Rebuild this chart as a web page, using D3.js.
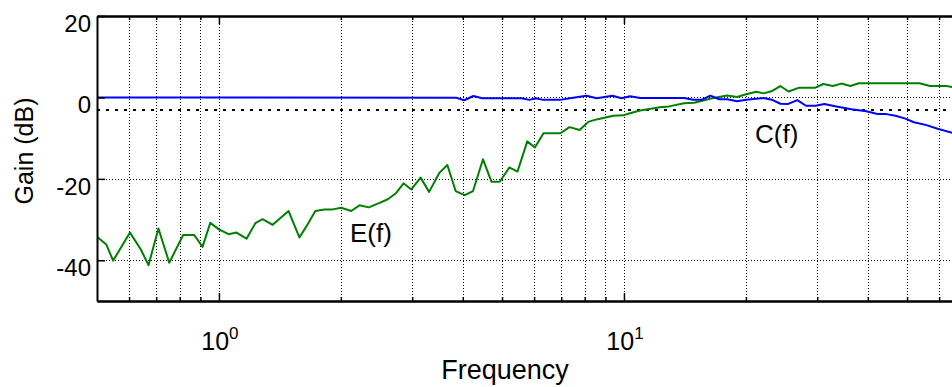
<!DOCTYPE html>
<html>
<head>
<meta charset="utf-8">
<script src="https://cdn.jsdelivr.net/npm/d3@7"></script>
<style>
    body { margin: 0; background: #fff; }
    svg { display: block; font-family: "Liberation Sans", Arial, Helvetica, sans-serif; }
</style>
</head>
<body>
<div id="viz"></div>
<script>
// Data (frequency, gain in dB)
const freqE = [0.5, 0.527, 0.548, 0.603, 0.641, 0.67, 0.709, 0.754, 0.816, 0.869, 0.911, 0.952, 1.0, 1.056, 1.105, 1.17, 1.23, 1.282, 1.357, 1.486, 1.58, 1.641, 1.73, 1.822, 1.91, 2.003, 2.121, 2.223, 2.344, 2.492, 2.612, 2.73, 2.856, 2.985, 3.147, 3.303, 3.497, 3.664, 3.841, 4.044, 4.24, 4.487, 4.707, 4.935, 5.211, 5.46, 5.771, 6.025, 6.33, 6.966, 7.339, 7.771, 8.162, 8.561, 9.408, 9.96, 10.35, 10.96, 12.27, 12.92, 14.07, 14.9, 16.51, 17.98, 19.03, 19.92, 21.21, 22.13, 23.23, 24.32, 25.49, 27.1, 29.68, 31.06, 32.79, 34.41, 36.22, 38.02, 53.66, 56.97, 62.57, 68];
const gainE = [-34.2, -36.1, -40.1, -33.2, -37.3, -41.2, -32.2, -40.6, -33.8, -33.8, -36.7, -30.8, -32.4, -33.6, -33.2, -34.7, -30.9, -29.9, -31.3, -27.9, -34.4, -31.8, -27.9, -27.5, -27.5, -27.1, -27.9, -26.5, -27.0, -25.9, -25.0, -23.6, -21.1, -22.6, -19.7, -23.2, -18.6, -16.6, -23.0, -24.0, -23.0, -15.2, -20.7, -20.7, -17.2, -18.2, -10.8, -12.3, -8.8, -8.8, -7.3, -8.0, -6.0, -5.4, -4.5, -4.4, -3.9, -3.2, -2.4, -2.2, -1.45, -1.3, -0.2, 0.5, 0.1, 0.7, 1.4, 1.0, 1.6, 2.8, 1.45, 2.4, 2.4, 3.3, 2.8, 3.4, 2.8, 3.5, 3.5, 2.8, 2.8, 2.2];

const freqC = [0.5, 3.864, 4.032, 4.249, 4.467, 5.579, 5.84, 6.058, 6.316, 6.946, 7.353, 8.087, 8.561, 9.367, 9.86, 10.35, 10.96, 14.07, 14.82, 15.59, 16.34, 17.18, 17.98, 19.03, 20.03, 22.13, 23.3, 24.34, 25.44, 26.79, 28.14, 29.72, 31.24, 33.46, 36.43, 39.67, 42.24, 44.46, 46.8, 49.34, 52.0, 55.85, 59.47, 64.75, 68];
const gainC = [0, -0.1, -0.7, 0.35, -0.2, -0.2, -0.6, -0.2, -0.6, -0.6, -0.2, 0.4, -0.2, 0.4, -0.2, 0.3, -0.15, -0.15, -0.55, -0.55, 0.45, -0.45, -0.45, -0.95, -0.55, -0.15, -0.65, -1.55, -1.6, -0.65, -2.05, -2.05, -1.6, -2.25, -2.9, -3.4, -4.05, -4.1, -4.5, -5.15, -6.1, -6.8, -7.7, -8.7, -9.3];

const yTicks = [-40, -20, 0, 20];
const decades = [1, 10, 100];
const labelDecades = [1, 10];
const decadeExp = ["0", "1"];
const halfPowerDb = -3;

// Dimensions
const width = 952;
const height = 387;
const plotLeft = 97, plotTop = 16, plotBottom = 301, plotRight = 1029;

const svg = d3.select("#viz")
    .append("svg")
    .attr("width", width)
    .attr("height", height);

// Scales
const x = d3.scaleLog().domain([0.5, 100]).range([plotLeft, plotRight]);
const y = d3.scaleLinear().domain([-50, 20]).range([plotBottom, plotTop]);

// Log grid positions: 0.6..0.9, 1..9, 10..90, 100
const gridFreqs = [];
[0.1, 1, 10].forEach(base => {
    for (let k = 1; k <= 9; k++) {
        const f = +(base * k).toFixed(2);
        if (f > 0.5) gridFreqs.push(f);
    }
});
gridFreqs.push(100);
const minorFreqs = gridFreqs.filter(f => !decades.includes(f));

svg.append("clipPath")
    .attr("id", "plot-clip")
    .append("rect")
    .attr("x", plotLeft)
    .attr("y", plotTop)
    .attr("width", plotRight - plotLeft)
    .attr("height", plotBottom - plotTop);

// Vertical grid lines
svg.append("g")
    .attr("transform", `translate(0, ${plotBottom})`)
    .call(d3.axisBottom(x).tickValues(gridFreqs).tickSize(-(plotBottom - plotTop)).tickFormat(""))
    .call(g => g.select(".domain").remove())
    .selectAll("line")
    .attr("stroke", "#000")
    .attr("shape-rendering", "crispEdges")
    .attr("stroke-dasharray", "1,2");

// Horizontal grid lines
svg.append("g")
    .attr("transform", `translate(${plotLeft}, 0)`)
    .call(d3.axisLeft(y).tickValues(yTicks.filter(v => v < 20)).tickSize(-(plotRight - plotLeft)).tickFormat(""))
    .call(g => g.select(".domain").remove())
    .selectAll("line")
    .attr("stroke", "#000")
    .attr("shape-rendering", "crispEdges")
    .attr("stroke-dasharray", "1,2");

// -3 dB reference line
svg.append("line")
    .attr("x1", plotLeft)
    .attr("x2", plotRight)
    .attr("y1", y(halfPowerDb))
    .attr("y2", y(halfPowerDb))
    .attr("stroke", "#000")
    .attr("stroke-width", 2)
    .attr("shape-rendering", "crispEdges")
    .attr("stroke-dasharray", "3,6");

// Curves
const line = d3.line()
    .x(d => x(d[0]))
    .y(d => y(d[1]));

svg.append("path")
    .datum(d3.zip(freqE, gainE))
    .attr("clip-path", "url(#plot-clip)")
    .attr("fill", "none")
    .attr("stroke", "#008000")
    .attr("stroke-width", 2)
    .attr("stroke-linejoin", "round")
    .attr("d", line);

svg.append("path")
    .datum(d3.zip(freqC, gainC))
    .attr("clip-path", "url(#plot-clip)")
    .attr("fill", "none")
    .attr("stroke", "#0000ff")
    .attr("stroke-width", 2)
    .attr("stroke-linejoin", "round")
    .attr("d", line);

// Axes with inward ticks
function styleAxis(g) {
    g.selectAll(".domain").attr("stroke", "#000").attr("stroke-width", 2);
    g.selectAll(".tick line").attr("stroke", "#000").attr("stroke-width", 1.5);
}

svg.append("g")
    .attr("transform", `translate(0, ${plotBottom})`)
    .call(d3.axisBottom(x).tickValues(minorFreqs).tickSize(-4).tickSizeOuter(0).tickFormat(""))
    .call(styleAxis);
svg.append("g")
    .attr("transform", `translate(0, ${plotBottom})`)
    .call(d3.axisBottom(x).tickValues(decades).tickSize(-8).tickSizeOuter(0).tickFormat(""))
    .call(styleAxis);
svg.append("g")
    .attr("transform", `translate(0, ${plotTop})`)
    .call(d3.axisTop(x).tickValues(minorFreqs).tickSize(-4).tickSizeOuter(0).tickFormat(""))
    .call(styleAxis);
svg.append("g")
    .attr("transform", `translate(0, ${plotTop})`)
    .call(d3.axisTop(x).tickValues(decades).tickSize(-8).tickSizeOuter(0).tickFormat(""))
    .call(styleAxis);
svg.append("g")
    .attr("transform", `translate(${plotLeft}, 0)`)
    .call(d3.axisLeft(y).tickValues(yTicks).tickSize(-8).tickSizeOuter(0).tickFormat(""))
    .call(styleAxis);

// Y tick labels
svg.append("g")
    .selectAll("text")
    .data(yTicks)
    .join("text")
    .attr("x", plotLeft - 6)
    .attr("y", d => y(d) + 16)
    .attr("text-anchor", "end")
    .style("font-size", "24px")
    .text(d => d);

// X tick labels as powers of ten
const xLabels = svg.append("g")
    .selectAll("text")
    .data(labelDecades)
    .join("text")
    .attr("x", d => x(d) + 1)
    .attr("y", 350)
    .attr("text-anchor", "middle")
    .style("font-size", "25px");
xLabels.append("tspan").text("10");
xLabels.append("tspan")
    .attr("dy", -11)
    .style("font-size", "17px")
    .text((d, i) => decadeExp[i]);

// Axis titles
svg.append("text")
    .attr("x", 505)
    .attr("y", 379)
    .attr("text-anchor", "middle")
    .style("font-size", "27px")
    .text("Frequency");

svg.append("text")
    .attr("transform", "translate(33, 151) rotate(-90)")
    .attr("text-anchor", "middle")
    .style("font-size", "25px")
    .text("Gain (dB)");

// Curve annotations
svg.append("text")
    .attr("x", 350)
    .attr("y", 242)
    .style("font-size", "26px")
    .text("E(f)");

svg.append("text")
    .attr("x", 755)
    .attr("y", 143)
    .style("font-size", "26px")
    .text("C(f)");
</script>
</body>
</html>
